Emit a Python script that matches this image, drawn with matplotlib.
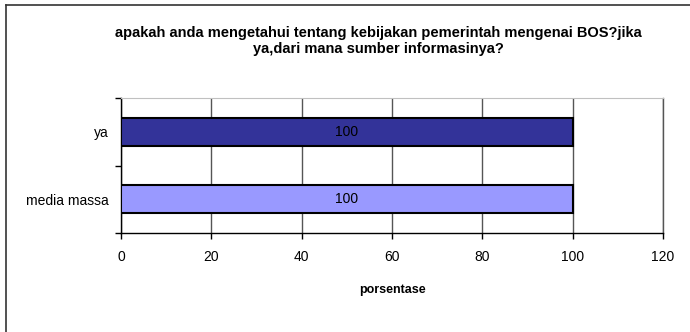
import matplotlib
matplotlib.use('Agg')

import matplotlib.pyplot as plt
from matplotlib.lines import Line2D

plt.rcParams['font.family'] = ['Liberation Sans', 'DejaVu Sans']

# Survey answers (percent of respondents)
categories = ["media massa", "ya"]
values = [100, 100]
bar_colors = ["#9999FF", "#333399"]
x_ticks = [0, 20, 40, 60, 80, 100, 120]

title = "apakah anda mengetahui tentang kebijakan pemerintah mengenai BOS?jika\nya,dari mana sumber informasinya?"

fig = plt.figure(figsize=(6.9, 3.32), dpi=100)
ax = fig.add_axes([121 / 690, 1 - 233 / 332, 542 / 690, 135 / 332])

pos = list(range(len(categories)))
ax.barh(pos, values, height=0.41, color=bar_colors, edgecolor="black",
        linewidth=1.5, zorder=3)
for p, v in zip(pos, values):
    ax.text(v / 2, p, f"{v}", ha="center", va="center", fontsize=10,
            color="black", zorder=4)

ax.set_xlim(0, 120)
ax.set_ylim(-0.5, len(categories) - 0.5)
ax.set_xticks(x_ticks)
ax.set_xticklabels([str(t) for t in x_ticks], fontsize=10)
ax.set_yticks(pos)
ax.set_yticklabels(categories, fontsize=10)
ax.set_yticks([p - 0.5 for p in pos] + [pos[-1] + 0.5], minor=True)
ax.tick_params(axis="y", which="major", length=0, pad=9)
ax.tick_params(axis="y", which="minor", length=4, width=1)
ax.tick_params(axis="x", length=4, width=1, pad=8)

ax.grid(axis="x", color="#555555", linewidth=1, zorder=1)
ax.axvline(x_ticks[-1], color="#555555", linewidth=1, zorder=1, clip_on=False)
ax.spines["right"].set_visible(False)
ax.spines["top"].set_color("#c0c0c0")
ax.spines["left"].set_linewidth(1)
ax.spines["bottom"].set_linewidth(1)

ax.set_xlabel("porsentase", fontsize=9, fontweight="bold", labelpad=15)

fig.text(378 / 690, 1 - 41 / 332, title, ha="center", va="center",
         fontsize=10.5, fontweight="bold", linespacing=1.25)

# chart frame (top and left edges)
fig.add_artist(Line2D([6 / 690, 1], [1 - 5 / 332, 1 - 5 / 332],
                      transform=fig.transFigure, color="#333333", linewidth=1.2))
fig.add_artist(Line2D([6 / 690, 6 / 690], [0, 1 - 5 / 332],
                      transform=fig.transFigure, color="#333333", linewidth=1.2))

fig.savefig("out.png", dpi=100)
